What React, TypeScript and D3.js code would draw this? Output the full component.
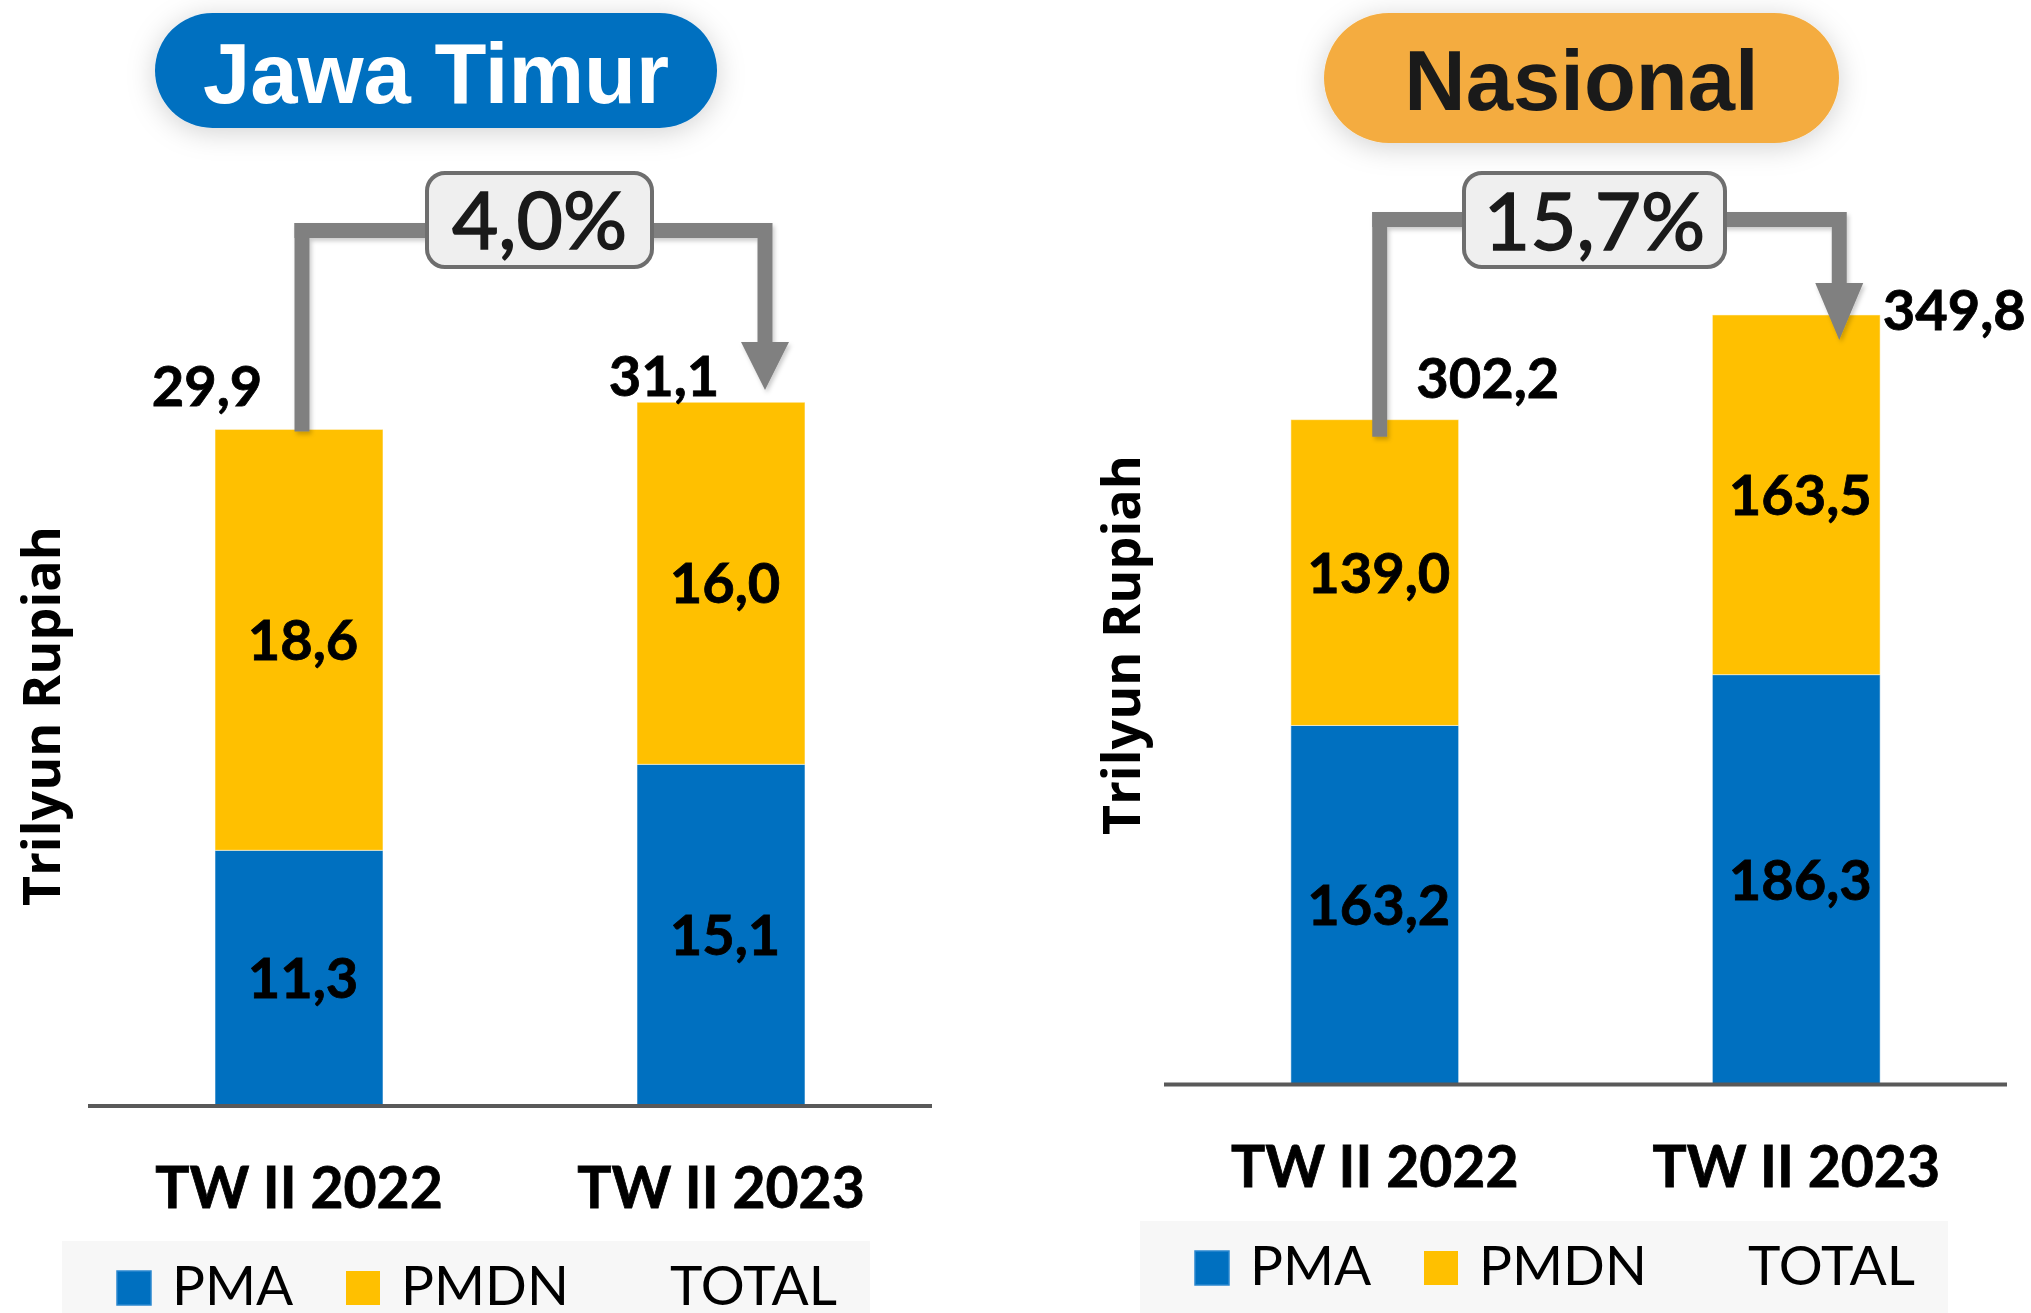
import React from "react";
import * as d3 from "d3";

const categories = ["TW II 2022", "TW II 2023"];
const jatimPMA = [11.3, 15.1];
const jatimPMDN = [18.6, 16.0];
const jatimTotal = [29.9, 31.1];
const nasPMA = [163.2, 186.3];
const nasPMDN = [139.0, 163.5];
const nasTotal = [302.2, 349.8];
const growthLabels = ["4,0%", "15,7%"];
const panelTitles = ["Jawa Timur", "Nasional"];
const legendLabels = ["PMA", "PMDN", "TOTAL"];
const yAxisTitle = "Trilyun Rupiah";

const BLUE = "#0070C0";
const YELLOW = "#FFC000";
const GREY = "#808080";

const fmt = (v: number) => d3.format(".1f")(v).replace(".", ",");

const panels = [
  {
    title: panelTitles[0], pillColor: BLUE, titleColor: "#ffffff",
    pill: { x: 155, y: 13, w: 562, h: 115 }, titleBaseline: 103,
    pma: jatimPMA, pmdn: jatimPMDN, total: jatimTotal, growth: growthLabels[0],
    xRange: [88, 932], y0: 1106, yMax: 35, yTop: 314,
    arrowY: 230.5, arrowStartDx: 3, arrowStartDy: 2, arrowEndDx: 44, headBase: 342, headTip: 390,
    box: { x: 427, y: 173, w: 225, h: 94 }, boxBaseline: 249,
    totalOffsets: [[-92, -23], [-57, -6]],
    yTitle: { x: 60, y: 716 },
    legend: { x: 62, y: 1241, w: 808, h: 80 },
    catBaseline: 1208,
  },
  {
    title: panelTitles[1], pillColor: "#F4AC3F", titleColor: "#1a1a1a",
    pill: { x: 1324, y: 13, w: 515, h: 130 }, titleBaseline: 110,
    pma: nasPMA, pmdn: nasPMDN, total: nasTotal, growth: growthLabels[1],
    xRange: [1164, 2007], y0: 1084.5, yMax: 400, yTop: 204.5,
    arrowY: 219.5, arrowStartDx: 5, arrowStartDy: 17, arrowEndDx: 43, headBase: 283, headTip: 340,
    box: { x: 1464, y: 173, w: 261, h: 94 }, boxBaseline: 250,
    totalOffsets: [[113, -22], [158, 15]],
    yTitle: { x: 1140, y: 645 },
    legend: { x: 1140, y: 1221, w: 808, h: 100 },
    catBaseline: 1187,
  },
];

const numFont = "Lato, 'Open Sans', sans-serif";

function Panel({ p }: { p: (typeof panels)[number] }) {
  const x = d3.scaleBand<string>().domain(categories).range(p.xRange as [number, number]).paddingInner(0.602).paddingOuter(0.301);
  const y = d3.scaleLinear().domain([0, p.yMax]).range([p.y0, p.yTop]);
  const bw = x.bandwidth();
  const cx = (c: string) => (x(c) as number) + bw / 2;
  const stacked = categories.map((c, i) => ({
    c,
    segs: [
      { v0: 0, v1: p.pma[i], val: p.pma[i], color: BLUE },
      { v0: p.pma[i], v1: p.pma[i] + p.pmdn[i], val: p.pmdn[i], color: YELLOW },
    ],
  }));
  const x1 = cx(categories[0]) + p.arrowStartDx;
  const x2 = cx(categories[1]) + p.arrowEndDx;
  const yStart = y(p.total[0]) + p.arrowStartDy;
  const legendY = p.legend.y + 30;
  const boldNum = { font: `bold 56px ${numFont}` };
  return (
    <g>
      {/* title pill */}
      <rect x={p.pill.x} y={p.pill.y} width={p.pill.w} height={p.pill.h} rx={p.pill.h / 2} ry={p.pill.h / 2}
        fill={p.pillColor} filter="url(#pillShadow)" />
      <text x={p.pill.x + p.pill.w / 2} y={p.titleBaseline} textAnchor="middle" fill={p.titleColor}
        style={{ font: "bold 85px 'Liberation Sans', Arial, sans-serif" }}>{p.title}</text>

      {/* bars */}
      {stacked.map((s) => (
        <g key={s.c}>
          {s.segs.map((g, j) => (
            <rect key={j} x={x(s.c)} y={y(g.v1)} width={bw} height={y(g.v0) - y(g.v1)} fill={g.color}
              stroke="#ffffff" strokeOpacity={0.5} strokeWidth={1} />
          ))}
          {s.segs.map((g, j) => (
            <text key={"t" + j} x={cx(s.c) + 4} y={(y(g.v0) + y(g.v1)) / 2 + 20} textAnchor="middle"
              fill="#000" stroke="#000" strokeWidth={0.8} style={boldNum}>{fmt(g.val)}</text>
          ))}
        </g>
      ))}

      {/* axis line */}
      <line x1={p.xRange[0]} x2={p.xRange[1]} y1={p.y0} y2={p.y0} stroke="#595959" strokeWidth={4} />

      {/* category labels */}
      {categories.map((c) => (
        <text key={c} x={cx(c)} y={p.catBaseline} textAnchor="middle" fill="#000" stroke="#000" strokeWidth={0.8}
          style={{ font: `bold 57px ${numFont}` }}>{c}</text>
      ))}

      {/* total labels */}
      {categories.map((c, i) => (
        <text key={"tot" + c} x={cx(c) + p.totalOffsets[i][0]} y={y(p.total[i]) + p.totalOffsets[i][1]}
          textAnchor="middle" fill="#000" stroke="#000" strokeWidth={0.8} style={boldNum}>{fmt(p.total[i])}</text>
      ))}

      {/* growth bracket arrow */}
      <g filter="url(#lineShadow)">
        <path d={`M${x1},${yStart} V${p.arrowY - 7.5} `} stroke={GREY} strokeWidth={15} fill="none" />
        <path d={`M${x1 - 7.5},${p.arrowY} H${x2} `} stroke={GREY} strokeWidth={15} fill="none" />
        <path d={`M${x2},${p.arrowY - 7.5} V${p.headBase}`} stroke={GREY} strokeWidth={15} fill="none" />
        <path d={`M${x2 - 24},${p.headBase} L${x2 + 24},${p.headBase} L${x2},${p.headTip} Z`} fill={GREY} />
      </g>
      <rect x={p.box.x} y={p.box.y} width={p.box.w} height={p.box.h} rx={18} ry={18} fill="#efefef"
        stroke="#6e6e6e" strokeWidth={4} />
      <text x={p.box.x + p.box.w / 2} y={p.boxBaseline} textAnchor="middle" fill="#1a1a1a" stroke="#1a1a1a"
        strokeWidth={1.6} style={{ font: `normal 80px ${numFont}` }}>{p.growth}</text>

      {/* y axis title */}
      <text transform={`translate(${p.yTitle.x},${p.yTitle.y}) rotate(-90)`} textAnchor="middle" fill="#000"
        style={{ font: "bold 52px 'Open Sans', sans-serif" }}>{yAxisTitle}</text>

      {/* legend */}
      <rect x={p.legend.x} y={p.legend.y} width={p.legend.w} height={p.legend.h} fill="#f7f7f7" />
      <rect x={p.legend.x + 55} y={legendY} width={34} height={34} fill={BLUE} stroke="#2b88cf" strokeWidth={1.5} />
      <text x={p.legend.x + 110} y={legendY + 34} fill="#000" style={{ font: `normal 55px ${numFont}` }}>{legendLabels[0]}</text>
      <rect x={p.legend.x + 284} y={legendY} width={34} height={34} fill={YELLOW} />
      <text x={p.legend.x + 339} y={legendY + 34} fill="#000" style={{ font: `normal 55px ${numFont}` }}>{legendLabels[1]}</text>
      <text x={p.legend.x + 608} y={legendY + 34} fill="#000" style={{ font: `normal 55px ${numFont}` }}>{legendLabels[2]}</text>
    </g>
  );
}

export default function App() {
  return (
    <div style={{ position: "absolute", left: 0, top: 0, width: 2031, height: 1313, background: "#fff" }}>
      <svg width={2031} height={1313} viewBox="0 0 2031 1313" style={{ display: "block" }}>
        <defs>
          <filter id="pillShadow" x="-20%" y="-40%" width="140%" height="180%">
            <feDropShadow dx="0" dy="4" stdDeviation="14" floodColor="#000" floodOpacity="0.18" />
          </filter>
          <filter id="lineShadow" x="-10%" y="-10%" width="120%" height="120%">
            <feDropShadow dx="2" dy="3" stdDeviation="2" floodColor="#000" floodOpacity="0.2" />
          </filter>
        </defs>
        <rect width={2031} height={1313} fill="#fff" />
        {panels.map((p) => <Panel key={p.title} p={p} />)}
      </svg>
    </div>
  );
}
